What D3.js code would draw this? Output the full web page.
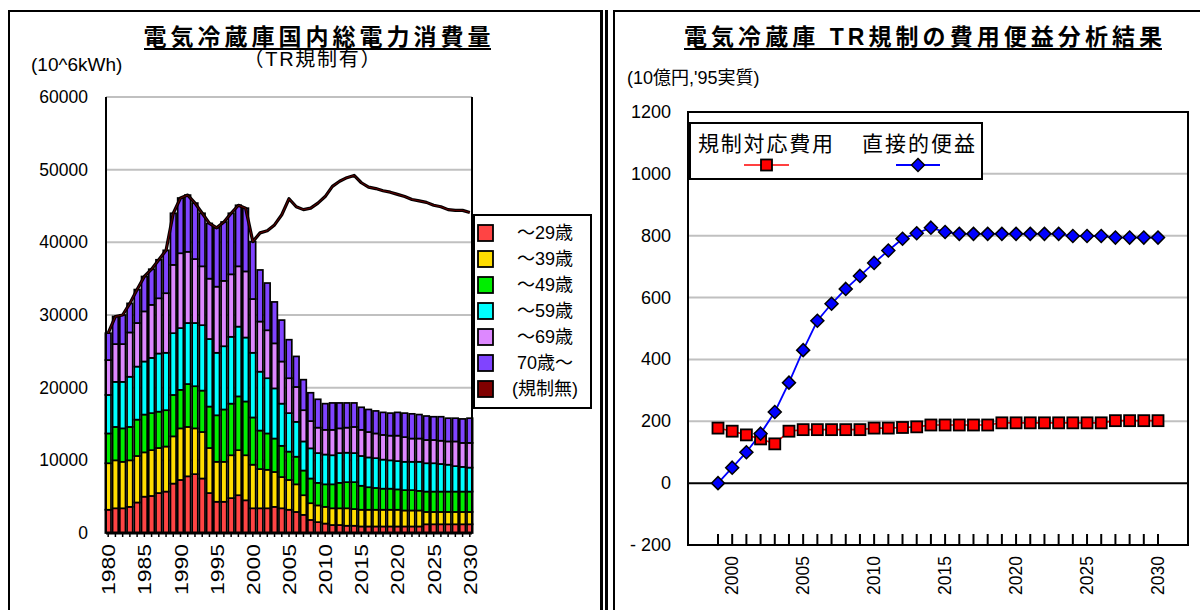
<!DOCTYPE html>
<html>
<head>
<meta charset="utf-8">
<script src="https://cdn.jsdelivr.net/npm/d3@7"></script>
<style>
  body { margin: 0; background: #fff; }
  svg text { font-family: "Liberation Sans", "Noto Sans CJK JP", sans-serif; fill: #000; }
</style>
</head>
<body>
<svg id="chart" width="1200" height="610"></svg>
<script>
// ---- Left panel: domestic refrigerator electricity consumption (10^6 kWh), stacked by appliance age ----
const years = d3.range(1980, 2031);
const age29 = [3200,3400,3400,3600,4200,5000,5100,5500,5700,6800,7300,7800,8100,7500,5500,4300,4300,4800,5200,4500,
               3400,3400,3400,3600,3400,3200,2900,2500,1800,1500,1300,1100,1100,1000,1000,900,900,900,900,900,
               900,900,900,900,1200,1200,1200,1200,1200,1200,1200];
const age39 = [6400,6600,6400,6400,6400,6100,6300,6200,6200,6500,7100,6800,6300,6400,6200,5500,5500,5900,6200,6200,
               6000,5400,5300,4800,4300,4100,3800,2700,2300,2300,2300,2300,2300,2400,2300,2300,2300,2300,2300,2300,
               2300,2200,2200,2200,1700,1700,1700,1700,1700,1700,1700];
const age49 = [4100,4600,4600,4600,5000,5200,5100,5000,5000,5700,5300,5900,5800,5700,5700,6400,7200,7100,7400,7400,
               6500,5300,5000,4600,4300,3900,3800,3400,3400,3100,3100,3300,3500,3600,3700,3300,3100,3000,2900,2900,
               2800,2800,2800,2700,2800,2800,2800,2800,2800,2800,2800];
const age59 = [5300,6200,6400,6900,7300,7300,7600,8000,7900,8500,8500,8400,8700,9000,9300,8600,8700,9200,9600,8800,
               8900,8100,7600,6900,5800,5300,4800,4000,4150,4100,4100,4000,4100,4050,4000,4100,4100,4100,4000,3900,
               3900,3900,3900,4000,3900,3900,3800,3700,3500,3400,3300];
const age69 = [4800,5200,5200,6100,6000,6900,7300,7600,8200,9400,10300,9800,8800,8100,8300,9100,9000,8600,8300,9100,
               7400,6900,6600,6200,5800,4800,4800,4300,3750,3500,3400,3500,3400,3450,3600,3600,3500,3400,3400,3400,
               3500,3400,3200,3200,3200,3200,3200,3200,3400,3300,3400];
const age70 = [3700,3800,4000,4000,4600,4800,4900,5300,5900,7100,7600,7800,7700,7300,7600,8100,8100,8400,8400,8700,
               7900,7100,6500,5700,5700,5300,4200,4200,3900,3900,3600,3700,3500,3400,3300,3100,3100,3100,3100,3100,
               3200,3300,3400,3300,3300,3200,3300,3200,3200,3300,3400];
// Consumption without the Top Runner regulation
const noRegulation = [27500,29800,30000,31600,33500,35300,36300,37600,38900,44000,46100,46500,45400,44000,42600,42000,42800,44000,45100,44700,
                      40100,41300,41600,42400,43800,46000,44900,44500,44700,45400,46300,47700,48400,48900,49200,48200,47600,47400,47100,46900,
                      46600,46300,45900,45700,45500,45100,44900,44500,44400,44400,44100];

const ageKeys   = ["a29", "a39", "a49", "a59", "a69", "a70"];
const ageNames  = ["～29歳", "～39歳", "～49歳", "～59歳", "～69歳", "70歳～"];
const ageColors = ["#ff4444", "#ffdd00", "#00ee00", "#00ffff", "#dd88ff", "#8044ff"];
const noRegName  = "(規制無)";
const noRegColor = "#800000";
const leftYTicks = [0, 10000, 20000, 30000, 40000, 50000, 60000];
const leftXLabels = [1980, 1985, 1990, 1995, 2000, 2005, 2010, 2015, 2020, 2025, 2030];

// ---- Right panel: cost-benefit of the regulation (10^9 yen, 1995 prices) ----
const cbaYears = d3.range(1999, 2031);
const complianceCost = [178,168,156,143,127,168,173,173,173,173,173,178,178,180,182,188,188,188,188,188,
                        195,195,195,195,195,195,195,195,202,202,202,202];
const directBenefit  = [0,50,100,160,230,325,430,525,580,628,670,712,752,790,808,826,812,806,806,806,
                        806,806,806,806,806,799,799,799,794,794,794,794];
const rightYTicks = [-200, 0, 200, 400, 600, 800, 1000, 1200];
const rightYTickLabels = ["- 200", "0", "200", "400", "600", "800", "1000", "1200"];
const rightXLabels = [2000, 2005, 2010, 2015, 2020, 2025, 2030];

const svg = d3.select("#chart");

// ---------- panel frames ----------
svg.append("line").attr("x1", 9).attr("x2", 600).attr("y1", 11).attr("y2", 11).attr("stroke", "#000").attr("stroke-width", 2);
svg.append("line").attr("x1", 9).attr("x2", 9).attr("y1", 10).attr("y2", 610).attr("stroke", "#000").attr("stroke-width", 2);
svg.append("rect").attr("x", 600).attr("y", 10).attr("width", 3).attr("height", 600).attr("fill", "#000");
svg.append("rect").attr("x", 605).attr("y", 10).attr("width", 3).attr("height", 600).attr("fill", "#000");
svg.append("line").attr("x1", 614).attr("x2", 1200).attr("y1", 11).attr("y2", 11).attr("stroke", "#000").attr("stroke-width", 2);
svg.append("line").attr("x1", 614).attr("x2", 614).attr("y1", 10).attr("y2", 610).attr("stroke", "#000").attr("stroke-width", 2);

// ---------- left chart ----------
const L = { left: 106, right: 472, top: 97, bottom: 533 };
const xL = d3.scaleBand().domain(years).range([105, 473]).paddingInner(0.22).paddingOuter(0.05);
const yL = d3.scaleLinear().domain([0, 60000]).range([L.bottom, L.top]);

const left = svg.append("g");

// titles
left.append("text").attr("x", 317).attr("y", 45).attr("text-anchor", "middle")
  .attr("font-size", 23).attr("font-weight", "bold")
  .attr("textLength", 347).attr("lengthAdjust", "spacing")
  .text("電気冷蔵庫国内総電力消費量");
left.append("line").attr("x1", 144).attr("x2", 491).attr("y1", 49).attr("y2", 49).attr("stroke", "#000").attr("stroke-width", 2);
left.append("text").attr("x", 312).attr("y", 66).attr("text-anchor", "middle")
  .attr("font-size", 20).attr("textLength", 137).attr("lengthAdjust", "spacing")
  .text("（TR規制有）");
left.append("text").attr("x", 31).attr("y", 71).attr("font-size", 19).text("(10^6kWh)");

// gridlines
left.append("g").selectAll("line").data(leftYTicks.filter(d => d > 0)).join("line")
  .attr("x1", L.left).attr("x2", L.right)
  .attr("y1", d => yL(d)).attr("y2", d => yL(d))
  .attr("stroke", "#c0c0c0").attr("stroke-width", 2);

// stacked bars
const rows = years.map((y, i) => ({
  year: y, a29: age29[i], a39: age39[i], a49: age49[i], a59: age59[i], a69: age69[i], a70: age70[i]
}));
const stacked = d3.stack().keys(ageKeys)(rows);
left.append("g").selectAll("g").data(stacked).join("g")
  .attr("fill", (d, i) => ageColors[i])
  .selectAll("rect").data(d => d).join("rect")
  .attr("x", d => xL(d.data.year))
  .attr("width", xL.bandwidth())
  .attr("y", d => yL(d[1]))
  .attr("height", d => yL(d[0]) - yL(d[1]))
  .attr("stroke", "#000").attr("stroke-width", 1.7);

// axes lines
left.append("line").attr("x1", L.left).attr("x2", L.left).attr("y1", L.top).attr("y2", L.bottom).attr("stroke", "#000").attr("stroke-width", 2);
left.append("line").attr("x1", L.right).attr("x2", L.right).attr("y1", L.top).attr("y2", L.bottom).attr("stroke", "#000").attr("stroke-width", 2);
const xAxisL = d3.axisBottom(xL).tickSize(4).tickFormat("");
left.append("g").attr("transform", `translate(0,${L.bottom})`).call(xAxisL)
  .call(g => g.select(".domain").attr("stroke", "#000").attr("stroke-width", 3).attr("d", `M${L.left},0H${L.right}`))
  .call(g => g.selectAll(".tick line").attr("stroke", "#000").attr("stroke-width", 1.5));

// no-regulation line (black casing with dark red core)
const lineL = d3.line().x((d, i) => xL(years[i]) + xL.bandwidth() / 2).y(d => yL(d));
left.append("path").datum(noRegulation).attr("d", lineL).attr("fill", "none")
  .attr("stroke", "#000").attr("stroke-width", 3.2).attr("stroke-linejoin", "round");
left.append("path").datum(noRegulation).attr("d", lineL).attr("fill", "none")
  .attr("stroke", noRegColor).attr("stroke-width", 0.8).attr("stroke-linejoin", "round");

// y tick labels
left.append("g").selectAll("text").data(leftYTicks).join("text")
  .attr("x", 88).attr("y", d => yL(d) + 6).attr("text-anchor", "end")
  .attr("font-size", 17.5).text(d => d);

// x tick labels (rotated)
left.append("g").selectAll("text").data(leftXLabels).join("text")
  .attr("transform", d => `translate(${xL(d) + xL.bandwidth() / 2 + 7},${L.bottom + 11}) rotate(-90)`)
  .attr("text-anchor", "end").attr("font-size", 19)
  .attr("textLength", 51).attr("lengthAdjust", "spacingAndGlyphs")
  .text(d => d);

// legend
const legL = left.append("g");
legL.append("rect").attr("x", 474).attr("y", 215).attr("width", 117).attr("height", 193)
  .attr("fill", "#fff").attr("stroke", "#000").attr("stroke-width", 2);
const legItems = ageNames.map((n, i) => ({ name: n, color: ageColors[i] })).concat([{ name: noRegName, color: noRegColor }]);
const legRow = legL.selectAll("g").data(legItems).join("g")
  .attr("transform", (d, i) => `translate(0,${233 + i * 26})`);
legRow.append("rect").attr("x", 478).attr("y", -8).attr("width", 15).attr("height", 16)
  .attr("fill", d => d.color).attr("stroke", "#000").attr("stroke-width", 1.8);
legRow.append("text").attr("x", 545).attr("y", 6).attr("text-anchor", "middle")
  .attr("font-size", 18).text(d => d.name);

// ---------- right chart ----------
const R = { left: 688, right: 1188, top: 112, bottom: 545 };
const xR = d3.scalePoint().domain(cbaYears).range([718, 1158]);
const yR = d3.scaleLinear().domain([-200, 1200]).range([R.bottom, R.top]);
const right = svg.append("g");

right.append("text").attr("x", 923).attr("y", 45).attr("text-anchor", "middle")
  .attr("font-size", 23).attr("font-weight", "bold")
  .attr("textLength", 478).attr("lengthAdjust", "spacing")
  .text("電気冷蔵庫 TR規制の費用便益分析結果");
right.append("line").attr("x1", 684).attr("x2", 1162).attr("y1", 49).attr("y2", 49).attr("stroke", "#000").attr("stroke-width", 2);
right.append("text").attr("x", 627).attr("y", 84).attr("font-size", 18).text("(10億円,'95実質)");

// gridlines
right.append("g").selectAll("line").data(rightYTicks.filter(d => d > 0 && d < 1200)).join("line")
  .attr("x1", R.left).attr("x2", R.right)
  .attr("y1", d => yR(d)).attr("y2", d => yR(d))
  .attr("stroke", "#c0c0c0").attr("stroke-width", 2);
// zero line
right.append("line").attr("x1", R.left).attr("x2", R.right).attr("y1", yR(0)).attr("y2", yR(0))
  .attr("stroke", "#000").attr("stroke-width", 2);
// plot border
right.append("rect").attr("x", R.left).attr("y", R.top).attr("width", R.right - R.left).attr("height", R.bottom - R.top)
  .attr("fill", "none").attr("stroke", "#000").attr("stroke-width", 2);
// inward ticks along the bottom
right.append("g").selectAll("line").data(cbaYears).join("line")
  .attr("x1", d => xR(d)).attr("x2", d => xR(d))
  .attr("y1", R.bottom).attr("y2", R.bottom - 11)
  .attr("stroke", "#000").attr("stroke-width", 2);

// y tick labels
right.append("g").selectAll("text").data(rightYTicks).join("text")
  .attr("x", 671).attr("y", d => yR(d) + 6).attr("text-anchor", "end")
  .attr("font-size", 18).text((d, i) => rightYTickLabels[i]);
// x tick labels (rotated)
right.append("g").selectAll("text").data(rightXLabels).join("text")
  .attr("transform", d => `translate(${xR(d) + 6},${R.bottom + 11}) rotate(-90)`)
  .attr("text-anchor", "end").attr("font-size", 17.5)
  .text(d => d);

// series lines
const lineR = d3.line().x((d, i) => xR(cbaYears[i])).y(d => yR(d));
right.append("path").datum(complianceCost).attr("d", lineR).attr("fill", "none").attr("stroke", "#ff0000").attr("stroke-width", 1.6);
right.append("path").datum(directBenefit).attr("d", lineR).attr("fill", "none").attr("stroke", "#0000ff").attr("stroke-width", 1.8);

// markers: squares for cost, diamonds for benefit
right.append("g").selectAll("rect").data(complianceCost).join("rect")
  .attr("x", (d, i) => xR(cbaYears[i]) - 5.5).attr("y", d => yR(d) - 5.5)
  .attr("width", 11).attr("height", 11)
  .attr("fill", "#ff0000").attr("stroke", "#000").attr("stroke-width", 1.8);
const diamond = "M0,-6.5L6.5,0L0,6.5L-6.5,0Z";
right.append("g").selectAll("path").data(directBenefit).join("path")
  .attr("transform", (d, i) => `translate(${xR(cbaYears[i])},${yR(d)})`)
  .attr("d", diamond)
  .attr("fill", "#0000ff").attr("stroke", "#000").attr("stroke-width", 1.5);

// legend
const legR = right.append("g");
legR.append("rect").attr("x", 690).attr("y", 123).attr("width", 292).attr("height", 56)
  .attr("fill", "#fff").attr("stroke", "#000").attr("stroke-width", 2);
legR.append("text").attr("x", 698).attr("y", 151).attr("font-size", 21)
  .attr("textLength", 135).attr("lengthAdjust", "spacing").text("規制対応費用");
legR.append("text").attr("x", 862).attr("y", 151).attr("font-size", 21)
  .attr("textLength", 113).attr("lengthAdjust", "spacing").text("直接的便益");
legR.append("line").attr("x1", 744).attr("x2", 789).attr("y1", 165).attr("y2", 165).attr("stroke", "#ff0000").attr("stroke-width", 1.6);
legR.append("rect").attr("x", 761).attr("y", 159.5).attr("width", 11).attr("height", 11)
  .attr("fill", "#ff0000").attr("stroke", "#000").attr("stroke-width", 1.8);
legR.append("line").attr("x1", 896).attr("x2", 940).attr("y1", 165).attr("y2", 165).attr("stroke", "#0000ff").attr("stroke-width", 1.8);
legR.append("path").attr("transform", "translate(918,165)").attr("d", diamond)
  .attr("fill", "#0000ff").attr("stroke", "#000").attr("stroke-width", 1.5);
</script>
</body>
</html>
